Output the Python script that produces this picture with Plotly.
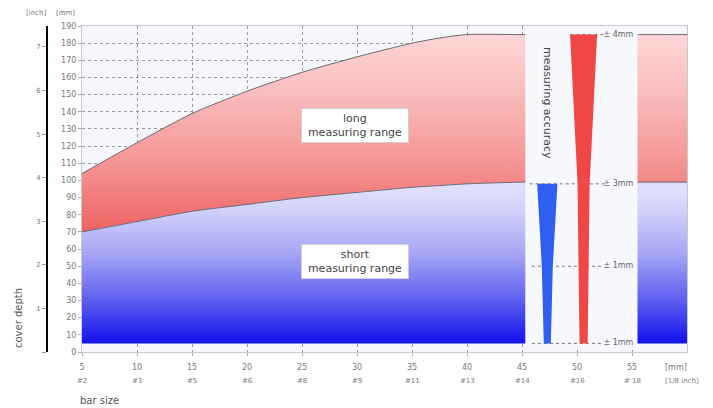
import plotly.graph_objects as go

# ---------------- data ----------------
bar_mm = [5, 10, 15, 20, 25, 30, 35, 37.5, 40, 45, 50, 55, 60]
long_range_top = [104, 122, 139, 152, 163, 172, 180, 183, 185, 185, 185, 185, 185]
short_range_top = [70, 76, 82, 86, 90, 93, 96, 97, 98, 99, 99, 99, 99]
min_depth = 5

x_tick_vals = [5, 10, 15, 20, 25, 30, 35, 40, 45, 50, 55]
x_tick_mm = ["5", "10", "15", "20", "25", "30", "35", "40", "45", "50", "55"]
x_tick_bar = ["#2", "#3", "#5", "#6", "#8", "#9", "#11", "#13", "#14", "#16", "# 18"]

y_tick_vals = list(range(0, 200, 10))
inch_tick_vals = [0, 1, 2, 3, 4, 5, 6, 7]
inch_tick_text = ["", "1", "2", "3", "4", "5", "6", "7"]
MM_PER_INCH = 25.4
Y_MAX = 190

# accuracy illustration (depth levels, wedge half-widths)
acc_depth_short = [98, 50, 5]
acc_halfw_short = [0.92, 0.5, 0.32]
acc_center_short = 47.3
acc_depth_long = [185, 98, 50, 5]
acc_halfw_long = [1.23, 0.55, 0.46, 0.37]
acc_center_long = 50.6
acc_levels = [185, 98, 50, 5]
acc_labels = ["± 4mm", "± 3mm", "± 1mm", "± 1mm"]
acc_line_x0 = [49.4, 45.7, 45.9, 45.9]
acc_line_x1 = [52.6, 52.6, 52.2, 52.2]
acc_label_x = 52.4
panel_x = (45.3, 55.5)
panel_y = (3, Y_MAX)

# ---------------- figure ----------------
fig = go.Figure()

fig.add_trace(go.Scatter(x=bar_mm, y=[min_depth] * len(bar_mm), mode="lines",
                         line=dict(width=0, color="rgba(0,0,0,0)"), hoverinfo="skip",
                         showlegend=False))
fig.add_trace(go.Scatter(x=bar_mm, y=short_range_top, mode="lines",
                         line=dict(color="#6a6a7a", width=1, shape="spline", smoothing=0.6),
                         fill="tonexty",
                         fillgradient=dict(type="vertical", start=min_depth, stop=100,
                                           colorscale=[[0, "#1212ee"], [0.25, "#5a5af0"],
                                                       [0.55, "#a6a6f6"], [0.85, "#d6d6fb"],
                                                       [1, "#e2e2fd"]]),
                         hoverinfo="skip", showlegend=False))
fig.add_trace(go.Scatter(x=bar_mm, y=long_range_top, mode="lines",
                         line=dict(color="#6a6a6a", width=1, shape="spline", smoothing=0.6),
                         fill="tonexty",
                         fillgradient=dict(type="vertical", start=70, stop=185,
                                           colorscale=[[0, "#f06262"], [0.3, "#f48e8e"],
                                                       [0.7, "#f9bcbc"], [1, "#fdd6d6"]]),
                         hoverinfo="skip", showlegend=False))

# accuracy panel
fig.add_trace(go.Scatter(x=[panel_x[0], panel_x[1], panel_x[1], panel_x[0], panel_x[0]],
                         y=[panel_y[0], panel_y[0], panel_y[1], panel_y[1], panel_y[0]],
                         mode="lines", line=dict(width=0), fill="toself",
                         fillcolor="#f7f8fc", hoverinfo="skip", showlegend=False))

for lv, x0, x1 in zip(acc_levels, acc_line_x0, acc_line_x1):
    fig.add_trace(go.Scatter(x=[x0, x1], y=[lv, lv], mode="lines",
                             line=dict(color="#777", width=1, dash="dot"),
                             hoverinfo="skip", showlegend=False))

def wedge(center, depths, halfw):
    xs = [center - w for w in halfw] + [center + w for w in reversed(halfw)]
    ys = list(depths) + list(reversed(depths))
    return xs + [xs[0]], ys + [ys[0]]

wx, wy = wedge(acc_center_short, acc_depth_short, acc_halfw_short)
fig.add_trace(go.Scatter(x=wx, y=wy, mode="lines", line=dict(width=0), fill="toself",
                         fillcolor="#2f5ff0", hoverinfo="skip", showlegend=False))
wx, wy = wedge(acc_center_long, acc_depth_long, acc_halfw_long)
fig.add_trace(go.Scatter(x=wx, y=wy, mode="lines", line=dict(width=0), fill="toself",
                         fillcolor="#f04646", hoverinfo="skip", showlegend=False))

fig.add_trace(go.Scatter(x=[acc_label_x] * len(acc_levels), y=acc_levels, mode="text",
                         text=acc_labels, textposition="middle right",
                         textfont=dict(size=8, color="#666", family="DejaVu Sans"),
                         hoverinfo="skip", showlegend=False))

fig.add_trace(go.Scatter(x=[5], y=[0], yaxis="y2", mode="markers",
                         marker=dict(opacity=0), hoverinfo="skip", showlegend=False))

# page (screen) pixel -> paper coordinates; the page body has an 8px margin
OFF = 8
W, H = 705, 400
L, R, T, B = 10, 26, 18, 56
pw = W - L - R
ph = H - T - B
def px_x(p):
    return (p - OFF - L) / pw
def px_y(p):
    return (H - B - (p - OFF)) / ph

def note(x, y, text, size, color="#777", xanchor="center", angle=0, xref="paper"):
    return dict(x=x, y=y, xref=xref, yref="paper", text=text, showarrow=False,
                xanchor=xanchor, yanchor="middle", textangle=angle,
                font=dict(size=size, color=color))

annotations = []
for xv, lab in zip(x_tick_vals, x_tick_bar):
    annotations.append(note(xv, px_y(381), lab, 7, xref="x"))
annotations += [
    note(px_x(663), px_y(367), "[mm]", 8, xanchor="left"),
    note(px_x(663), px_y(381), "[1/8 inch]", 7, xanchor="left"),
    note(px_x(78), px_y(400), "bar size", 10, color="#555", xanchor="left"),
    note(px_x(18), px_y(318), "cover depth", 10, color="#555", angle=-90),
    note(px_x(36), px_y(13), "[inch]", 7),
    note(px_x(65), px_y(13), "[mm]", 7),
    dict(x=29.8, y=132, xref="x", yref="y", text="long<br>measuring range",
         showarrow=False, font=dict(size=11, color="#444"), bgcolor="white",
         bordercolor="#cfcfcf", borderwidth=1, borderpad=3, width=100,
         xanchor="center", yanchor="middle"),
    dict(x=29.8, y=53, xref="x", yref="y", text="short<br>measuring range",
         showarrow=False, font=dict(size=11, color="#444"), bgcolor="white",
         bordercolor="#cfcfcf", borderwidth=1, borderpad=3, width=100,
         xanchor="center", yanchor="middle"),
    dict(x=47.3, y=145, xref="x", yref="y", text="measuring accuracy", textangle=90,
         showarrow=False, font=dict(size=11, color="#444"),
         xanchor="center", yanchor="middle"),
]

fig.update_layout(
    width=W, height=H,
    margin=dict(l=L, r=R, t=T, b=B, pad=0, autoexpand=False),
    paper_bgcolor="white",
    plot_bgcolor="#f5f7fc",
    font=dict(family="DejaVu Sans", color="#666"),
    showlegend=False,
    xaxis=dict(range=[5, 60], domain=[px_x(82), 1], tickvals=x_tick_vals, ticktext=x_tick_mm,
               tickfont=dict(size=8, color="#777"), ticks="outside", ticklen=3,
               ticklabelstandoff=4,
               tickcolor="#aaa", showline=True, linecolor="#c8c8c8", mirror=True,
               showgrid=True, gridcolor="#9a9a9a", griddash="dot", gridwidth=1,
               zeroline=False, fixedrange=True, automargin=False),
    yaxis=dict(range=[0, Y_MAX], tickvals=y_tick_vals, tickfont=dict(size=8, color="#777"),
               ticks="outside", ticklen=3, tickcolor="#aaa", showline=True,
               linecolor="#c8c8c8", mirror=True, showgrid=True, gridcolor="#9a9a9a",
               griddash="dot", gridwidth=1, zeroline=False, fixedrange=True,
               automargin=False),
    yaxis2=dict(range=[0, Y_MAX / MM_PER_INCH], overlaying="y", anchor="free",
                position=px_x(47), side="left", tickvals=inch_tick_vals,
                ticktext=inch_tick_text, tickfont=dict(size=7, color="#777"),
                ticks="outside", ticklen=4, tickcolor="#999", showline=True,
                linecolor="black", linewidth=2, showgrid=False, zeroline=False,
                fixedrange=True, automargin=False),
    annotations=annotations,
)

fig.write_html("out.html")
